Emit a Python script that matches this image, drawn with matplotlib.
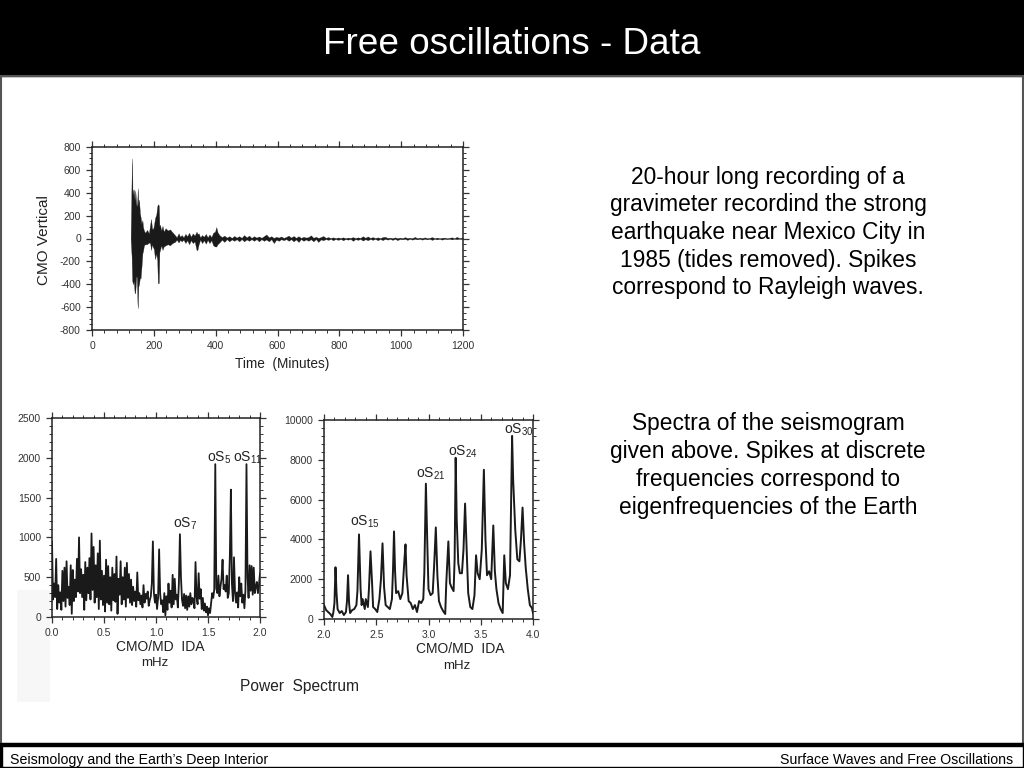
import matplotlib
matplotlib.use('Agg')
import matplotlib.pyplot as plt
from matplotlib.patches import Rectangle
from matplotlib.ticker import MultipleLocator

plt.rcParams['font.family'] = ['Liberation Sans', 'DejaVu Sans']
plt.rcParams['mathtext.default'] = 'regular'
plt.rcParams['axes.unicode_minus'] = False

W, H = 1024, 768

# seismogram envelope
seis_t = [125, 128, 130, 131, 133, 135, 138, 140, 143, 145, 147, 148, 150, 152, 155, 157, 160, 163, 165, 168,
          172, 178, 184, 188, 191, 194, 197, 200, 204, 208, 211, 213, 216, 218, 220, 224, 228, 232, 238, 245,
          252, 260, 268, 274, 280, 285, 290, 296, 302, 308, 314, 320, 326, 332, 338, 341, 345, 350, 356, 362,
          368, 374, 380, 386, 392, 398, 402, 406,
          412, 420, 428, 436, 444, 452, 460, 468, 476, 484, 492, 500, 508, 516, 524, 532, 540, 548, 556, 564,
          572, 580, 588, 596, 604, 612, 620, 628, 636, 644, 652, 660, 668, 676, 684, 692, 700, 708, 716, 724,
          732, 740, 748, 756, 764, 772, 780, 788, 796, 804, 812, 820, 828, 836, 844, 852, 860, 868, 876, 884,
          892, 900, 908, 916, 924, 932, 940, 948, 956, 964, 972, 980, 988, 996, 1004, 1012, 1020, 1028, 1036, 1044,
          1052, 1060, 1068, 1076, 1084, 1092, 1100, 1108, 1116, 1124, 1132, 1140, 1148, 1156, 1164, 1172, 1180, 1188, 1196, 1200]
seis_hi = [0, 520, 700, 380, 420, 430, 330, 420, 300, 280, 360, 440, 300, 340, 220, 190, 130, 160, 100, 70,
           50, 75, 45, 120, 170, 90, 80, 110, 180, 210, 280, 300, 290, 110, 120, 70, 110, 60, 90, 70,
           80, 55, 30, 10, 45, 15, 30, 10, 40, 20, 50, 15, 45, 25, 60, 40, 45, 10, 30, 15,
           40, 10, 35, 12, 50, 60, 100, 55,
           30, 12, 25, 8, 20, 5, 22, 8, 20, 6, 30, 10, 25, 5, 20, 8, 18, 6, 20, 35,
           10, 20, 5, 15, 8, 18, 5, 14, 25, 8, 22, 6, 20, 5, 15, 8, 12, 28, 6, 15,
           5, 12, 22, 6, 12, 4, 10, 3, 9, 4, 10, 3, 8, 5, 12, 4, 10, 5, 20, 6,
           18, 5, 12, 4, 10, 3, 12, 15, 4, 8, 3, 10, 3, 8, 3, 12, 4, 7, 3, 14,
           3, 8, 3, 10, 3, 6, 12, 3, 8, 3, 6, 8, 3, 6, 10, 3, 14, 4, 8, 3]
seis_lo = [0, -150, -370, -380, -400, -370, -480, -470, -330, -340, -560, -610, -420, -400, -340, -350, -250, -130, -110, -60,
           -50, -50, -35, -40, -100, -50, -75, -90, -180, -130, -190, -390, -390, -120, -100, -60, -100, -70, -60, -50,
           -60, -40, -30, -10, -35, -12, -25, -10, -40, -15, -50, -15, -40, -25, -100, -100, -50, -10, -40, -15,
           -45, -12, -40, -15, -60, -70, -70, -50,
           -35, -10, -30, -6, -25, -8, -20, -6, -25, -5, -25, -8, -20, -6, -20, -5, -25, -6, -20, -8,
           -25, -6, -40, -10, -20, -6, -15, -5, -20, -6, -25, -8, -30, -5, -20, -8, -20, -6, -25, -5,
           -30, -8, -15, -5, -12, -3, -15, -4, -12, -4, -15, -5, -10, -4, -20, -5, -12, -4, -18, -6,
           -15, -4, -12, -3, -15, -4, -14, -3, -10, -3, -12, -3, -14, -4, -8, -3, -12, -3, -10, -3,
           -8, -3, -10, -3, -8, -3, -12, -3, -8, -3, -10, -3, -6, -3, -8, -3, -6, -3, -5, -3]

# left spectrum 0-2 mHz
spec1_f = [0.00, 0.01, 0.02, 0.03, 0.04, 0.05, 0.06, 0.07, 0.08, 0.09, 0.10, 0.11, 0.12, 0.13, 0.14, 0.15, 0.16, 0.17, 0.18, 0.19,
           0.20, 0.21, 0.22, 0.23, 0.24, 0.25, 0.26, 0.27, 0.28, 0.29, 0.30, 0.31, 0.32, 0.33, 0.34, 0.35, 0.36, 0.37, 0.38, 0.39,
           0.40, 0.41, 0.42, 0.43, 0.44, 0.45, 0.46, 0.47, 0.48, 0.49, 0.50, 0.51, 0.52, 0.53, 0.54, 0.55, 0.56, 0.57, 0.58, 0.59,
           0.60, 0.61, 0.62, 0.63, 0.64, 0.65, 0.66, 0.67, 0.68, 0.69, 0.70, 0.71, 0.72, 0.73, 0.74, 0.75, 0.76, 0.77, 0.78, 0.79,
           0.80, 0.81, 0.82, 0.83, 0.84, 0.85, 0.86, 0.87, 0.88, 0.89, 0.90, 0.91, 0.92, 0.93, 0.94, 0.95, 0.96, 0.97, 0.98, 0.99,
           1.00, 1.01, 1.02, 1.03, 1.04, 1.05, 1.06, 1.07, 1.08, 1.09, 1.10, 1.11, 1.12, 1.13, 1.14, 1.15, 1.16, 1.17, 1.18, 1.19,
           1.20, 1.21, 1.22, 1.23, 1.24, 1.25, 1.26, 1.27, 1.28, 1.29, 1.30, 1.31, 1.32, 1.33, 1.34, 1.35, 1.36, 1.37, 1.38, 1.39,
           1.40, 1.41, 1.42, 1.43, 1.44, 1.45, 1.46, 1.47, 1.48, 1.49, 1.50, 1.51, 1.52, 1.53, 1.54, 1.55, 1.56, 1.57, 1.58, 1.59,
           1.60, 1.61, 1.62, 1.63, 1.64, 1.65, 1.66, 1.67, 1.68, 1.69, 1.70, 1.71, 1.72, 1.73, 1.74, 1.75, 1.76, 1.77, 1.78, 1.79,
           1.80, 1.81, 1.82, 1.83, 1.84, 1.85, 1.86, 1.87, 1.88, 1.89, 1.90, 1.91, 1.92, 1.93, 1.94, 1.95, 1.96, 1.97, 1.98, 1.99, 2.00]
spec1_p = [950, 220, 420, 250, 730, 100, 400, 180, 310, 90, 580, 200, 620, 130, 700, 240, 380, 150, 650, 40,
           590, 200, 470, 250, 730, 320, 1000, 300, 600, 250, 530, 90, 690, 210, 620, 300, 740, 220, 1050, 340,
           880, 180, 650, 250, 800, 100, 960, 220, 580, 150, 520, 70, 720, 180, 640, 160, 500, 80, 620, 210,
           540, 190, 760, 40, 480, 280, 700, 160, 500, 220, 620, 130, 680, 240, 540, 180, 470, 150, 380, 200,
           320, 130, 560, 210, 300, 160, 270, 120, 400, 180, 290, 230, 320, 140, 210, 260, 420, 950, 300, 180,
           280, 100, 240, 850, 290, 160, 210, 60, 300, 20, 260, 90, 420, 180, 330, 120, 530, 160, 480, 220,
           280, 120, 420, 1040, 500, 220, 140, 290, 110, 270, 90, 260, 130, 300, 160, 240, 200, 110, 690, 250,
           160, 550, 230, 350, 100, 240, 80, 170, 60, 130, 20, 110, 50, 180, 300, 240, 340, 1920, 360, 300,
           520, 260, 380, 480, 720, 350, 400, 320, 520, 240, 300, 760, 1600, 420, 200, 750, 300, 180, 310, 120,
           500, 260, 420, 180, 280, 110, 340, 1920, 500, 240, 650, 330, 640, 280, 620, 300, 380, 440, 300, 400, 550]

# right spectrum 2-4 mHz
spec2_f = [2.00, 2.02, 2.04, 2.06, 2.08, 2.09, 2.10, 2.11, 2.12, 2.13, 2.15, 2.17, 2.19, 2.21, 2.22, 2.23, 2.24, 2.25, 2.27, 2.29,
           2.31, 2.32, 2.335, 2.35, 2.36, 2.37, 2.39, 2.40, 2.42, 2.43, 2.445, 2.46, 2.47, 2.49, 2.51, 2.53, 2.545, 2.56, 2.575, 2.59,
           2.61, 2.63, 2.65, 2.66, 2.67, 2.68, 2.69, 2.71, 2.73, 2.75, 2.77, 2.78, 2.79, 2.81, 2.83, 2.85, 2.87, 2.89, 2.91, 2.93,
           2.95, 2.96, 2.975, 2.99, 3.00, 3.02, 3.04, 3.055, 3.07, 3.085, 3.10, 3.12, 3.14, 3.16, 3.17, 3.19, 3.205, 3.22, 3.24, 3.25,
           3.26, 3.27, 3.285, 3.30, 3.32, 3.335, 3.35, 3.365, 3.38, 3.40, 3.42, 3.44, 3.455, 3.47, 3.49, 3.51, 3.53, 3.545, 3.56, 3.58,
           3.60, 3.62, 3.635, 3.65, 3.67, 3.69, 3.71, 3.725, 3.74, 3.76, 3.78, 3.80, 3.81, 3.83, 3.85, 3.87, 3.885, 3.90, 3.915, 3.93,
           3.95, 3.97, 3.99, 4.00]
spec2_p = [700, 450, 350, 250, 100, 350, 800, 2600, 1300, 500, 300, 400, 200, 350, 900, 2200, 800, 300, 450, 500,
           700, 1400, 4250, 1500, 700, 1000, 500, 1000, 600, 1500, 3400, 1800, 600, 500, 350, 1000, 2000, 3800, 1600, 700,
           600, 500, 1000, 2400, 4400, 2400, 1300, 1400, 1000, 1300, 3000, 3750, 2200, 900, 800, 500, 700, 350, 900, 800,
           1000, 2300, 6800, 3500, 1500, 1200, 1300, 2800, 4600, 2200, 900, 600, 400, 250, 1800, 3900, 1800, 1600, 1400, 3000,
           8100, 5000, 2800, 2300, 2300, 3500, 5800, 3500, 1300, 600, 500, 1200, 3200, 2300, 2000, 3500, 7500, 4000, 2200, 2400,
           2000, 4700, 2400, 1500, 800, 500, 300, 3200, 1800, 1500, 2200, 9200, 7000, 4500, 3000, 2900, 4000, 5600, 3800, 2600,
           1500, 700, 550, 300]

seis_xticks = [0, 200, 400, 600, 800, 1000, 1200]
seis_yticks = [-800, -600, -400, -200, 0, 200, 400, 600, 800]
spec1_xticks = [0.0, 0.5, 1.0, 1.5, 2.0]
spec1_yticks = [0, 500, 1000, 1500, 2000, 2500]
spec2_xticks = [2.0, 2.5, 3.0, 3.5, 4.0]
spec2_yticks = [0, 2000, 4000, 6000, 8000, 10000]


def panel(left, top, right, bottom):
    ax = fig.add_axes([left / W, 1 - bottom / H, (right - left) / W, (bottom - top) / H])
    ax.patch.set_alpha(0)
    for s in ax.spines.values():
        s.set_linewidth(1.1)
        s.set_color('#222222')
    ax.tick_params(which='major', length=4, width=0.9, labelsize=7.5, pad=4, colors='#333333',
                   top=True, right=True, direction='out')
    ax.tick_params(which='minor', length=2, width=0.7, top=True, right=True, direction='out', colors='#333333')
    return ax


def px_text(x, y, s, size, **kw):
    fig.text(x / W, 1 - y / H, s, fontsize=size, color='#222222', ha='center', va='center', **kw)


fig = plt.figure(figsize=(W / 100, H / 100), dpi=100, facecolor='white')

# slide frame, title bar and footer
fig.add_artist(Rectangle((0, 1 - 76 / H), 1, 76 / H, color='black', transform=fig.transFigure))
fig.add_artist(Rectangle((1 / W, 24 / H), 1022 / W, 668 / H, fc='none', ec='#555555', lw=1.5, transform=fig.transFigure))
fig.add_artist(Rectangle((0, 22.5 / H), 1, 2.5 / H, color='black', transform=fig.transFigure))
fig.add_artist(Rectangle((0, 0), 1, 1 / H, color='black', transform=fig.transFigure))
fig.add_artist(Rectangle((0, 0), 1.5 / W, 24 / H, color='black', transform=fig.transFigure))
fig.add_artist(Rectangle((1022.5 / W, 0), 1.5 / W, 24 / H, color='black', transform=fig.transFigure))
fig.add_artist(Rectangle((17 / W, 66 / H), 33 / W, 112 / H, fc='#f7f7f7', ec='none', zorder=-1, transform=fig.transFigure))
fig.text(0.5, 1 - 44 / H, 'Free oscillations - Data', color='white', fontsize=26.6, ha='center', va='center')
fig.text(10 / W, 8 / H, 'Seismology and the Earth\u2019s Deep Interior', fontsize=10.2, va='center')
fig.text(1013 / W, 8 / H, 'Surface Waves and Free Oscillations', fontsize=10.2, va='center', ha='right')

# seismogram
ax1 = panel(92, 147, 463, 330)
ax1.fill_between(seis_t, seis_lo, seis_hi, color='#1a1a1a', lw=0.2)
ax1.set_xlim(0, 1200)
ax1.set_ylim(-800, 800)
ax1.set_xticks(seis_xticks)
ax1.set_yticks(seis_yticks)
ax1.xaxis.set_minor_locator(MultipleLocator(40))
ax1.yaxis.set_minor_locator(MultipleLocator(50))
px_text(282, 364, 'Time  (Minutes)', 9.8)
px_text(44, 240, 'CMO Vertical', 11, rotation=90)

# left spectrum
ax2 = panel(52, 418, 260, 617)
ax2.plot(spec1_f, spec1_p, color='#1a1a1a', lw=1.3)
ax2.set_xlim(0, 2)
ax2.set_ylim(0, 2500)
ax2.set_xticks(spec1_xticks)
ax2.set_xticklabels(['0.0', '0.5', '1.0', '1.5', '2.0'])
ax2.set_yticks(spec1_yticks)
ax2.xaxis.set_minor_locator(MultipleLocator(0.1))
ax2.yaxis.set_minor_locator(MultipleLocator(100))
px_text(160, 647, 'CMO/MD  IDA', 10)
px_text(155, 663, 'mHz', 9.5)
ax2.text(1.16, 1125, 'oS$_7$', fontsize=10, color='#222222')
ax2.text(1.49, 1950, 'oS$_5$', fontsize=10, color='#222222')
ax2.text(1.74, 1950, 'oS$_{11}$', fontsize=10, color='#222222')

# right spectrum
ax3 = panel(324, 420, 533, 619)
ax3.plot(spec2_f, spec2_p, color='#1a1a1a', lw=1.4)
ax3.set_xlim(2, 4)
ax3.set_ylim(0, 10000)
ax3.set_xticks(spec2_xticks)
ax3.set_xticklabels(['2.0', '2.5', '3.0', '3.5', '4.0'])
ax3.set_yticks(spec2_yticks)
ax3.xaxis.set_minor_locator(MultipleLocator(0.1))
ax3.yaxis.set_minor_locator(MultipleLocator(400))
px_text(460, 649, 'CMO/MD  IDA', 10)
px_text(457, 666, 'mHz', 9.5)
ax3.text(2.25, 4700, 'oS$_{15}$', fontsize=10, color='#222222')
ax3.text(2.88, 7100, 'oS$_{21}$', fontsize=10, color='#222222')
ax3.text(3.19, 8200, 'oS$_{24}$', fontsize=10, color='#222222')
ax3.text(3.72, 9300, 'oS$_{30}$', fontsize=10, color='#222222')

px_text(299, 687, 'Power  Spectrum', 11.2)

# captions
fig.text(768 / W, 1 - 232.5 / H,
         '20-hour long recording of a\ngravimeter recordind the strong\nearthquake near Mexico City in\n'
         '1985 (tides removed). Spikes\ncorrespond to Rayleigh waves.',
         fontsize=16.4, ha='center', va='center', linespacing=1.26)
fig.text(768 / W, 1 - 465.5 / H,
         'Spectra of the seismogram\ngiven above. Spikes at discrete\nfrequencies correspond to\n'
         'eigenfrequencies of the Earth',
         fontsize=16.4, ha='center', va='center', linespacing=1.26)

fig.savefig('out.png', dpi=100)
